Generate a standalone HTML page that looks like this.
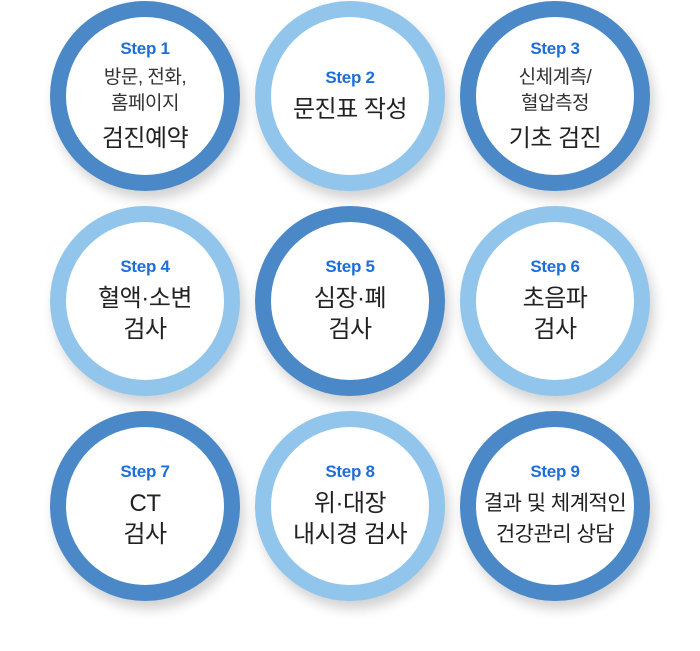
<!DOCTYPE html>
<html><head><meta charset="utf-8"><style>
body{margin:0;width:700px;height:651px;background:#fff;position:relative;overflow:hidden;font-family:"Liberation Sans","Noto Sans CJK KR",sans-serif}
.c{position:absolute;width:158px;height:158px;border-radius:50%;border:16px solid #4a88c8;background:#fff;box-shadow:4px 8px 12px rgba(0,0,0,0.18);display:flex;flex-direction:column;align-items:center;justify-content:center;text-align:center}
.l{border-color:#92c5eb}
.s{color:#1d6fd8;font-weight:bold;font-size:17px;margin-bottom:6px;letter-spacing:-0.3px}
.m{font-size:19px;color:#333;line-height:26px;letter-spacing:-0.5px}
.b{font-size:24px;color:#222;line-height:31px;letter-spacing:-0.5px;font-weight:normal}
</style></head><body>
<div class="c" style="left:50px;top:1px"><div class="s">Step 1</div><div class="m">방문, 전화,<br>홈페이지</div><div class="b" style="margin-top:6px">검진예약</div></div>
<div class="c l" style="left:255px;top:1px"><div class="s">Step 2</div><div class="b">문진표 작성</div></div>
<div class="c" style="left:460px;top:1px"><div class="s">Step 3</div><div class="m">신체계측/<br>혈압측정</div><div class="b" style="margin-top:6px">기초 검진</div></div>
<div class="c l" style="left:50px;top:206px"><div class="s">Step 4</div><div class="b">혈액·소변<br>검사</div></div>
<div class="c" style="left:255px;top:206px"><div class="s">Step 5</div><div class="b">심장·폐<br>검사</div></div>
<div class="c l" style="left:460px;top:206px"><div class="s">Step 6</div><div class="b">초음파<br>검사</div></div>
<div class="c" style="left:50px;top:411px"><div class="s">Step 7</div><div class="b">CT<br>검사</div></div>
<div class="c l" style="left:255px;top:411px"><div class="s">Step 8</div><div class="b">위·대장<br>내시경 검사</div></div>
<div class="c" style="left:460px;top:411px"><div class="s">Step 9</div><div class="b" style="font-size:21px">결과 및 체계적인<br>건강관리 상담</div></div>
</body></html>
